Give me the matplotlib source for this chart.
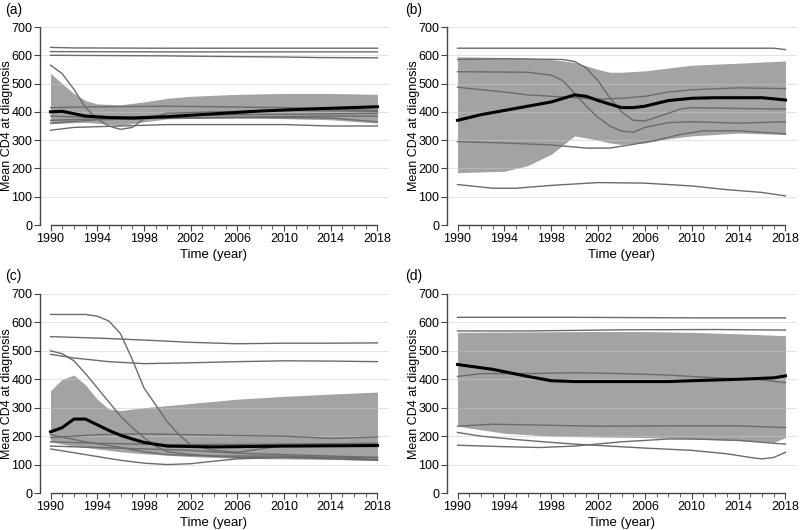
"""
Srednji CD4 pri dijagnozi kroz vreme - cetiri panela (a)-(d).
Siva traka = interval, tanke sive linije = pojedinacne serije, crna = prosek.
"""

import numpy as np
import matplotlib
matplotlib.use("Agg")
from matplotlib import pyplot as plt
from matplotlib.ticker import MultipleLocator

plt.rcParams["font.family"] = ["Liberation Sans", "DejaVu Sans"]

# ---- panel (a) ----
a_band_years = [1990, 1991, 1992, 1993, 1994, 1996, 1998, 2000, 2002, 2006, 2010, 2014, 2018]
a_band_hi = [536, 500, 465, 440, 428, 425, 435, 448, 455, 462, 465, 465, 462]
a_band_lo = [358, 360, 362, 363, 360, 352, 365, 375, 377, 378, 376, 372, 360]
a_mean_years = [1990, 1991, 1993, 1995, 1997, 2000, 2004, 2008, 2012, 2018]
a_mean = [400, 402, 385, 380, 378, 383, 393, 403, 410, 418]
a_lines = [
    ([1990, 1992, 2000, 2010, 2018], [628, 626, 625, 625, 625]),
    ([1990, 2000, 2010, 2018], [613, 612, 612, 612]),
    ([1990, 2000, 2004, 2010, 2013, 2018], [600, 598, 596, 594, 592, 591]),
    ([1990, 1991, 1992, 1993, 1994, 1995, 1996, 1997, 1998, 2000, 2004, 2010, 2018],
     [565, 535, 480, 415, 375, 350, 338, 345, 375, 395, 400, 405, 402]),
    ([1990, 1992, 1996, 2000, 2010, 2014, 2018], [335, 345, 350, 355, 355, 350, 350]),
    ([1990, 1994, 2000, 2004, 2010, 2018], [415, 418, 420, 418, 415, 405]),
    ([1990, 1994, 2000, 2006, 2012, 2018], [385, 380, 385, 390, 392, 395]),
    ([1990, 1994, 2000, 2008, 2014, 2018], [370, 375, 378, 380, 378, 365]),
    ([1990, 1994, 2000, 2008, 2014, 2018], [360, 372, 378, 382, 385, 385]),
]

# ---- panel (b) ----
b_band_years = [1990, 1994, 1996, 1998, 2000, 2002, 2003, 2004, 2006, 2008, 2010, 2014, 2018]
b_band_hi = [595, 592, 590, 585, 575, 550, 540, 540, 545, 555, 565, 572, 580]
b_band_lo = [185, 190, 210, 250, 315, 300, 290, 285, 290, 305, 315, 325, 320]
b_mean_years = [1990, 1992, 1994, 1996, 1998, 2000, 2001, 2002, 2004, 2005, 2006, 2008, 2010,
                2012, 2016, 2018]
b_mean = [370, 390, 405, 420, 435, 460, 455, 440, 415, 415, 420, 440, 448, 450, 450, 442]
b_lines = [
    ([1990, 2000, 2010, 2017, 2018], [625, 625, 625, 625, 620]),
    ([1990, 1994, 1999, 2000, 2001, 2002, 2003, 2004, 2005, 2006, 2008, 2009, 2010, 2014, 2018],
     [585, 588, 585, 578, 555, 510, 450, 400, 370, 368, 395, 410, 415, 412, 410]),
    ([1990, 1996, 1998, 1999, 2000, 2001, 2002, 2003, 2004, 2005, 2006, 2008, 2010, 2014, 2018],
     [542, 540, 530, 510, 465, 420, 380, 350, 332, 328, 345, 362, 365, 360, 365]),
    ([1990, 1994, 1996, 2000, 2002, 2004, 2006, 2008, 2010, 2014, 2018],
     [487, 470, 460, 450, 445, 448, 455, 470, 478, 485, 482]),
    ([1990, 1994, 1998, 2001, 2003, 2005, 2007, 2009, 2011, 2014, 2018],
     [295, 290, 283, 272, 272, 285, 300, 320, 333, 333, 322]),
    ([1990, 1993, 1995, 1998, 2002, 2006, 2010, 2013, 2016, 2018],
     [143, 130, 130, 140, 150, 148, 138, 125, 115, 103]),
]

# ---- panel (c) ----
c_band_years = [1990, 1991, 1992, 1993, 1994, 1995, 1996, 1998, 2002, 2006, 2010, 2014, 2018]
c_band_hi = [360, 400, 415, 380, 330, 295, 290, 300, 315, 330, 340, 348, 355]
c_band_lo = [180, 172, 165, 160, 155, 150, 145, 138, 128, 122, 120, 118, 115]
c_mean_years = [1990, 1991, 1992, 1993, 1994, 1995, 1996, 1997, 1998, 2000, 2004, 2010, 2018]
c_mean = [215, 230, 260, 260, 240, 220, 203, 190, 178, 165, 162, 165, 167]
c_lines = [
    ([1990, 1993, 1994, 1995, 1996, 1997, 1998, 1999, 2000, 2001, 2002, 2004, 2006, 2008, 2010, 2018],
     [628, 628, 622, 605, 560, 470, 370, 310, 250, 205, 170, 150, 143, 155, 168, 168]),
    ([1990, 1994, 1998, 2002, 2006, 2010, 2014, 2018], [550, 545, 538, 530, 525, 527, 527, 528]),
    ([1990, 1992, 1995, 1998, 2002, 2006, 2010, 2014, 2018], [488, 475, 462, 455, 458, 462, 465, 464, 462]),
    ([1990, 1991, 1992, 1993, 1994, 1995, 1996, 1997, 1998, 1999, 2000, 2002, 2006, 2010, 2014, 2018],
     [500, 490, 465, 420, 370, 320, 270, 230, 195, 165, 145, 135, 125, 125, 120, 115]),
    ([1990, 1994, 1998, 2002, 2006, 2010, 2014, 2018], [195, 205, 208, 205, 202, 200, 192, 197]),
    ([1990, 1993, 1996, 1998, 2000, 2002, 2004, 2006, 2010, 2018], [155, 135, 115, 105, 100, 103, 112, 120, 125, 125]),
    ([1990, 1993, 1996, 1998, 2000, 2004, 2010, 2014, 2018], [205, 180, 160, 145, 135, 130, 130, 125, 118]),
    ([1990, 1994, 1998, 2002, 2006, 2010, 2014, 2018], [165, 160, 155, 150, 140, 135, 130, 125]),
    ([1990, 1994, 2000, 2010, 2018], [180, 175, 170, 172, 175]),
]

# ---- panel (d) ----
d_band_years = [1990, 1994, 1998, 2002, 2006, 2010, 2014, 2017, 2018]
d_band_hi = [565, 566, 567, 568, 568, 565, 560, 555, 553]
d_band_lo = [235, 210, 200, 197, 195, 190, 185, 178, 195]
d_mean_years = [1990, 1993, 1996, 1998, 2000, 2008, 2010, 2014, 2017, 2018]
d_mean = [452, 435, 410, 395, 392, 392, 395, 400, 405, 412]
d_lines = [
    ([1990, 2000, 2010, 2018], [618, 618, 616, 616]),
    ([1990, 1996, 2004, 2012, 2018], [570, 570, 574, 575, 573]),
    ([1990, 1992, 1996, 2000, 2004, 2008, 2012, 2016, 2018], [410, 420, 420, 423, 420, 415, 405, 398, 388]),
    ([1990, 1993, 1998, 2002, 2008, 2014, 2018], [235, 242, 238, 235, 236, 236, 230]),
    ([1990, 1992, 1995, 1998, 2000, 2003, 2006, 2010, 2013, 2015, 2016, 2017, 2018],
     [213, 200, 188, 178, 172, 165, 158, 150, 138, 125, 120, 125, 143]),
    ([1990, 1994, 1997, 2000, 2004, 2008, 2010, 2014, 2017, 2018], [168, 163, 160, 165, 180, 190, 190, 185, 175, 172]),
]

panels = [
    ("(a)", a_band_years, a_band_hi, a_band_lo, a_mean_years, a_mean, a_lines),
    ("(b)", b_band_years, b_band_hi, b_band_lo, b_mean_years, b_mean, b_lines),
    ("(c)", c_band_years, c_band_hi, c_band_lo, c_mean_years, c_mean, c_lines),
    ("(d)", d_band_years, d_band_hi, d_band_lo, d_mean_years, d_mean, d_lines),
]

# pozicije osa u pikselima (levo, dole, desno, gore) za sliku 800x530
boxes = [(40, 225, 388, 27), (447, 225, 796, 27), (40, 493, 388, 294), (447, 493, 796, 294)]
label_pos = [(5, 10), (405, 10), (5, 276), (405, 276)]


def draw_panel(ax, band_years, band_hi, band_lo, mean_years, mean, lines):
    """
    Crta traku, tanke linije i crnu liniju proseka na jednoj osi.
    """
    ax.fill_between(band_years, band_lo, band_hi, color="#a3a3a3", lw=0, zorder=1)
    for ys in range(100, 800, 100):
        ax.axhline(ys, color="#c8c8c8", lw=0.8, alpha=0.5, zorder=2)
    for years, vals in lines:
        ax.plot(years, vals, color="#6b6b6b", lw=1.0, zorder=3)
    ax.plot(mean_years, mean, color="black", lw=2.2, zorder=4)

    ax.set_xlim(1989.1, 2018.9)
    ax.set_ylim(0, 700)
    ax.set_xticks(np.arange(1990, 2019, 4))
    ax.xaxis.set_minor_locator(MultipleLocator(1))
    ax.yaxis.set_major_locator(MultipleLocator(100))
    ax.spines["top"].set_visible(False)
    ax.spines["right"].set_visible(False)
    ax.spines["bottom"].set_bounds(1990, 2018)
    for s in ("left", "bottom"):
        ax.spines[s].set_color("#444444")
        ax.spines[s].set_linewidth(1.0)
    ax.tick_params(axis="both", which="major", labelsize=9, length=4, color="#444444", pad=1.5)
    ax.tick_params(axis="x", which="minor", length=3, color="#444444")
    ax.set_xlabel("Time (year)", fontsize=9.5, labelpad=3)
    ax.set_ylabel("Mean CD4 at diagnosis", fontsize=9)
    ax.yaxis.set_label_coords(-0.078, 0.5)


fig = plt.figure(figsize=(8, 5.3), dpi=100)
W, H = 800, 530
for (name, by, bh, bl, my, mv, ln), (l, b, r, t), (lx, ly) in zip(panels, boxes, label_pos):
    ax = fig.add_axes([l / W, 1 - b / H, (r - l) / W, (b - t) / H])
    draw_panel(ax, by, bh, bl, my, mv, ln)
    fig.text(lx / W, 1 - ly / H, name, fontsize=10, ha="left", va="center")

fig.savefig("out.png", dpi=100)
